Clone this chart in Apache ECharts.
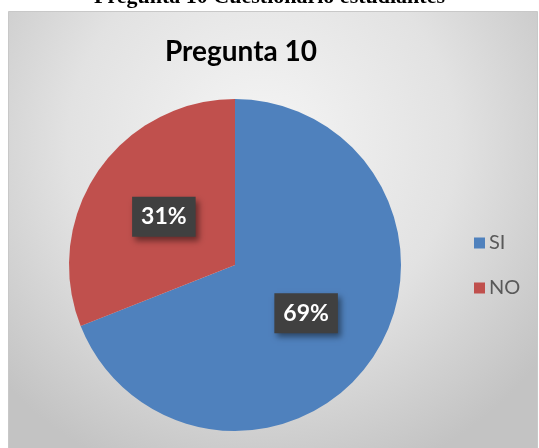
<!DOCTYPE html>
<html>
<head>
<meta charset="utf-8">
<script src="https://cdn.jsdelivr.net/npm/echarts@6/dist/echarts.min.js"></script>
<style>
html,body{margin:0;padding:0;background:#fff;}
#main{width:539px;height:448px;}
</style>
</head>
<body>
<div id="main"></div>
<script>
var categories = ['SI', 'NO'];
var values = [69, 31];
var colors = ['#4F81BD', '#C0504D'];
var chartTitle = 'Pregunta 10';
var figureCaption = 'Pregunta 10 Cuestionario estudiantes';

var chart = echarts.init(document.getElementById('main'));
chart.setOption({
  animation: false,
  backgroundColor: '#ffffff',
  graphic: [
    {
      type: 'text', left: 'center', top: -14, z: 0,
      style: { text: figureCaption, font: 'bold 22px "Liberation Serif", "Times New Roman", serif', fill: '#000' }
    },
    {
      type: 'rect', z: -1, silent: true,
      shape: { x: 8.5, y: 11.5, width: 529, height: 440 },
      style: {
        stroke: '#c8c8c8', lineWidth: 1,
        fill: {
          type: 'radial', x: 0.48, y: 0.3, r: 0.8,
          colorStops: [
            { offset: 0, color: '#f5f5f5' },
            { offset: 0.55, color: '#e2e2e2' },
            { offset: 1, color: '#c3c3c3' }
          ]
        }
      }
    }
  ],
  title: {
    text: chartTitle,
    left: 236, top: 33, textAlign: 'center',
    textStyle: { fontFamily: 'Lato, "Open Sans", sans-serif', fontWeight: 'bold', fontSize: 28, color: '#000' }
  },
  legend: {
    orient: 'vertical',
    left: 469, top: 228,
    itemWidth: 11, itemHeight: 11, itemGap: 25,
    icon: 'rect',
    data: categories,
    textStyle: { fontFamily: 'Lato, "Open Sans", sans-serif', fontSize: 20, color: '#595959', padding: [0, 0, 0, -1] }
  },
  series: [{
    type: 'pie',
    center: [235, 265],
    radius: 166,
    startAngle: 90,
    clockwise: true,
    silent: true,
    itemStyle: { borderWidth: 0 },
    label: {
      show: true,
      position: 'inside',
      formatter: function (p) { return p.value + '%'; },
      color: '#ffffff',
      fontFamily: 'Lato, "Open Sans", sans-serif',
      fontWeight: 'bold',
      fontSize: 23,
      backgroundColor: '#404040',
      padding: [9, 9, 8, 9],
      shadowBlur: 6, shadowOffsetX: 3, shadowOffsetY: 4, shadowColor: 'rgba(0,0,0,0.45)'
    },
    labelLine: { show: false },
    data: categories.map(function (c, i) {
      return { name: c, value: values[i], itemStyle: { color: colors[i] } };
    })
  }]
});
</script>
</body>
</html>
